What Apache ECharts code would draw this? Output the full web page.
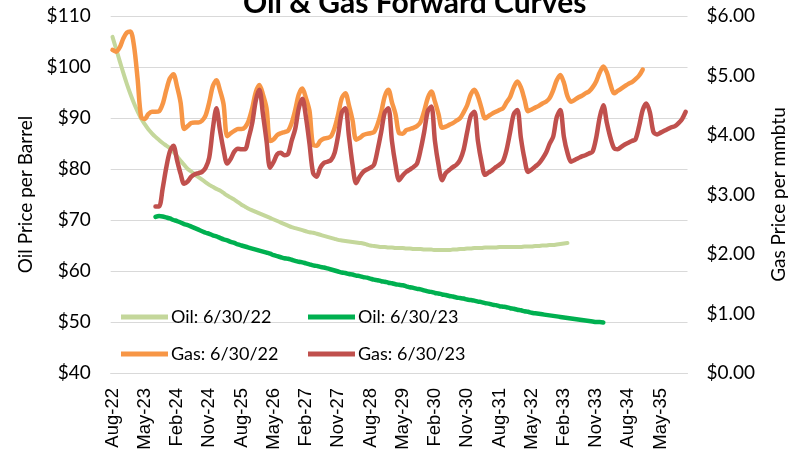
<!DOCTYPE html>
<html>
<head>
<meta charset="utf-8">
<script src="https://cdn.jsdelivr.net/npm/echarts@6/dist/echarts.min.js"></script>
<style>
  html, body { margin: 0; padding: 0; background: #fff; }
  #chart { width: 800px; height: 456px; }
</style>
</head>
<body>
<div id="chart"></div>
<script>
// monthly categories Aug-22 .. Dec-35
const MONTHS = ['Jan','Feb','Mar','Apr','May','Jun','Jul','Aug','Sep','Oct','Nov','Dec']
const categories = []
for (let k = 0; k < 161; k++) {
    const m = (7 + k) % 12
    const y = 22 + Math.floor((7 + k) / 12)
    categories.push(MONTHS[m] + '-' + y)
}

// Oil: 6/30/22, starts Aug-22
const oil22Start = 0
const oil22 = [
    105.9, 103.6, 101.2, 98.9, 96.7, 94.7, 92.9, 91.3, 89.9, 88.8, 87.8, 87.0,
    86.3, 85.7, 85.1, 84.6, 84.1, 83.4, 82.5, 81.6, 80.8, 80.0, 79.5, 78.9,
    78.4, 77.9, 77.4, 76.9, 76.5, 76.1, 75.8, 75.3, 74.8, 74.4, 74.0, 73.5,
    73.0, 72.6, 72.2, 71.9, 71.6, 71.3, 71.0, 70.7, 70.4, 70.1, 69.8, 69.5,
    69.2, 68.9, 68.6, 68.4, 68.2, 68.0, 67.8, 67.6, 67.5, 67.3, 67.1, 66.9,
    66.7, 66.5, 66.3, 66.1, 66.0, 65.9, 65.8, 65.7, 65.6, 65.5, 65.4, 65.2,
    65.0, 64.9, 64.8, 64.7, 64.7, 64.6, 64.6, 64.5, 64.5, 64.5, 64.4, 64.4,
    64.3, 64.3, 64.3, 64.2, 64.2, 64.2, 64.1, 64.1, 64.1, 64.1, 64.1, 64.2,
    64.2, 64.3, 64.3, 64.4, 64.4, 64.5, 64.5, 64.5, 64.6, 64.6, 64.6, 64.6,
    64.7, 64.7, 64.7, 64.7, 64.7, 64.7, 64.7, 64.8, 64.8, 64.8, 64.9, 64.9,
    65.0, 65.0, 65.1, 65.1, 65.2, 65.3, 65.4, 65.5
]

// Oil: 6/30/23, starts Aug-23
const oil23Start = 12
const oil23 = [
    70.6, 70.8, 70.7, 70.5, 70.3, 70.0, 69.8, 69.5, 69.2, 69.0, 68.7, 68.4,
    68.1, 67.8, 67.5, 67.3, 67.0, 66.8, 66.5, 66.2, 66.0, 65.7, 65.5, 65.2,
    65.0, 64.8, 64.6, 64.4, 64.2, 64.0, 63.8, 63.6, 63.4, 63.1, 62.9, 62.7,
    62.5, 62.4, 62.2, 62.0, 61.8, 61.7, 61.5, 61.3, 61.1, 61.0, 60.8, 60.7,
    60.5, 60.3, 60.1, 59.9, 59.7, 59.6, 59.4, 59.3, 59.1, 59.0, 58.8, 58.7,
    58.5, 58.3, 58.2, 58.0, 57.9, 57.7, 57.6, 57.4, 57.3, 57.2, 57.0, 56.8,
    56.7, 56.5, 56.4, 56.2, 56.0, 55.9, 55.7, 55.6, 55.4, 55.3, 55.1, 55.0,
    54.8, 54.7, 54.6, 54.4, 54.3, 54.2, 54.0, 53.9, 53.7, 53.6, 53.4, 53.3,
    53.1, 53.0, 52.9, 52.7, 52.6, 52.4, 52.3, 52.1, 52.0, 51.8, 51.7, 51.6,
    51.5, 51.4, 51.3, 51.2, 51.1, 51.0, 50.9, 50.8, 50.7, 50.6, 50.5, 50.4,
    50.3, 50.2, 50.1, 50.0, 50.0, 49.9
]

// Gas: 6/30/22, starts Aug-22
const gas22Start = 0
const gas22 = [
    5.43, 5.40, 5.47, 5.62, 5.72, 5.74, 5.50, 4.95, 4.30, 4.27, 4.35, 4.39,
    4.39, 4.40, 4.52, 4.75, 4.95, 5.02, 4.82, 4.55, 4.10, 4.15, 4.20, 4.21,
    4.21, 4.24, 4.33, 4.55, 4.82, 4.92, 4.75, 4.52, 3.98, 4.03, 4.07, 4.10,
    4.10, 4.13, 4.24, 4.45, 4.72, 4.84, 4.68, 4.45, 3.90, 3.93, 4.00, 4.03,
    4.05, 4.07, 4.20, 4.42, 4.68, 4.78, 4.62, 4.40, 3.83, 3.82, 3.90, 3.94,
    3.95, 3.98, 4.12, 4.35, 4.62, 4.70, 4.50, 4.25, 3.92, 3.95, 4.00, 4.02,
    4.03, 4.05, 4.18, 4.38, 4.65, 4.76, 4.55, 4.35, 4.03, 4.02, 4.08, 4.10,
    4.12, 4.15, 4.22, 4.40, 4.62, 4.73, 4.56, 4.35, 4.12, 4.14, 4.17, 4.20,
    4.24, 4.28, 4.38, 4.50, 4.68, 4.76, 4.65, 4.45, 4.28, 4.32, 4.36, 4.39,
    4.42, 4.45, 4.55, 4.64, 4.80, 4.90, 4.80, 4.60, 4.40, 4.43, 4.46, 4.49,
    4.53, 4.56, 4.62, 4.75, 4.92, 5.01, 4.88, 4.65, 4.56, 4.59, 4.63, 4.66,
    4.70, 4.73, 4.80, 4.90, 5.05, 5.15, 5.05, 4.85, 4.70, 4.74, 4.78, 4.82,
    4.86, 4.89, 4.94, 5.00, 5.10
]

// Gas: 6/30/23, starts Aug-23
const gas23Start = 12
const gas23 = [
    2.80, 2.80, 3.10, 3.45, 3.72, 3.82, 3.58, 3.35, 3.18, 3.22, 3.30, 3.34,
    3.36, 3.38, 3.45, 3.62, 4.10, 4.45, 4.08, 3.75, 3.52, 3.60, 3.72, 3.77,
    3.76, 3.76, 3.95, 4.20, 4.58, 4.76, 4.35, 3.90, 3.45, 3.55, 3.68, 3.70,
    3.66, 3.68, 3.90, 4.10, 4.45, 4.61, 4.30, 3.85, 3.36, 3.30, 3.45, 3.53,
    3.55, 3.58, 3.70, 4.00, 4.38, 4.45, 3.98, 3.50, 3.19, 3.30, 3.38, 3.42,
    3.45, 3.50, 3.75, 4.05, 4.38, 4.45, 3.90, 3.50, 3.24, 3.32, 3.38, 3.42,
    3.46, 3.52, 3.75, 4.05, 4.40, 4.48, 3.90, 3.50, 3.24, 3.36, 3.41, 3.46,
    3.50, 3.58, 3.75, 4.05, 4.32, 4.39, 3.90, 3.55, 3.33, 3.37, 3.41, 3.46,
    3.50, 3.56, 3.75, 4.05, 4.35, 4.42, 3.95, 3.60, 3.38, 3.42, 3.47, 3.52,
    3.60, 3.70, 3.85, 3.97, 4.30, 4.42, 3.97, 3.70, 3.55, 3.58, 3.61, 3.64,
    3.66, 3.69, 3.72, 3.95, 4.30, 4.50, 4.20, 3.95, 3.78, 3.76, 3.80, 3.84,
    3.87, 3.90, 3.93, 4.15, 4.42, 4.53, 4.38, 4.05, 4.01, 4.04, 4.07, 4.10,
    4.13, 4.15, 4.20, 4.27, 4.39
]

const pad = (start, vals) => new Array(start).fill(null).concat(vals)

const labelFont = 'Lato'
const textColor = '#000'
const gridColor = '#d9d9d9'

const legendCell = (name, left, top) => ({
    data: [name],
    left: left,
    top: top,
    icon: 'rect',
    itemWidth: 47,
    itemHeight: 5,
    itemGap: 0,
    textStyle: { fontFamily: labelFont, fontSize: 18, color: textColor, padding: [0, 0, 0, -2] }
})

const lineSeries = (name, color, yAxisIndex, start, vals, width) => ({
    name: name,
    type: 'line',
    yAxisIndex: yAxisIndex,
    data: pad(start, vals),
    symbol: 'none',
    smooth: 0.3,
    lineStyle: { color: color, width: width, cap: 'round', join: 'round' },
    itemStyle: { color: color },
    emphasis: { disabled: true }
})

const chart = echarts.init(document.getElementById('chart'))
chart.setOption({
    animation: false,
    title: {
        text: 'Oil & Gas Forward Curves',
        left: 238,
        top: -17,
        textStyle: { fontFamily: labelFont, fontSize: 30, fontWeight: 'bold', color: textColor }
    },
    legend: [
        legendCell('Oil: 6/30/22', 116, 303),
        legendCell('Oil: 6/30/23', 303, 303),
        legendCell('Gas: 6/30/22', 116, 340),
        legendCell('Gas: 6/30/23', 303, 340)
    ],
    grid: { left: 110.7, right: 112.5, top: 16, bottom: 83 },
    xAxis: {
        type: 'category',
        data: categories,
        boundaryGap: true,
        axisLine: { lineStyle: { color: gridColor, width: 1 } },
        axisTick: { interval: 8, length: 5, lineStyle: { color: gridColor } },
        axisLabel: {
            interval: 8,
            rotate: 90,
            margin: 15,
            fontFamily: 'Liberation Sans',
            fontSize: 18.5,
            color: textColor
        },
        splitLine: { show: false }
    },
    yAxis: [
        {
            type: 'value',
            min: 40,
            max: 110,
            interval: 10,
            name: 'Oil Price per Barrel',
            nameLocation: 'middle',
            nameRotate: 90,
            nameGap: 68,
            nameTextStyle: { fontFamily: labelFont, fontSize: 19, color: textColor },
            axisLine: { show: false },
            axisTick: { show: false },
            axisLabel: { formatter: '${value}', fontFamily: labelFont, fontSize: 19, color: textColor, margin: 20 },
            splitLine: { lineStyle: { color: gridColor, width: 1 } }
        },
        {
            type: 'value',
            min: 0,
            max: 6,
            interval: 1,
            name: 'Gas Price per mmbtu',
            nameLocation: 'middle',
            nameRotate: 90,
            nameGap: 82,
            nameTextStyle: { fontFamily: labelFont, fontSize: 19, color: textColor },
            axisLine: { show: false },
            axisTick: { show: false },
            axisLabel: {
                formatter: v => '$' + v.toFixed(2),
                fontFamily: labelFont, fontSize: 19, color: textColor, margin: 19
            },
            splitLine: { show: false }
        }
    ],
    series: [
        lineSeries('Oil: 6/30/22', '#c4d79b', 0, oil22Start, oil22, 4),
        lineSeries('Oil: 6/30/23', '#00b050', 0, oil23Start, oil23, 4.5),
        lineSeries('Gas: 6/30/22', '#f79646', 1, gas22Start, gas22, 4.5),
        lineSeries('Gas: 6/30/23', '#c0504d', 1, gas23Start, gas23, 4.5)
    ]
})
window.addEventListener('resize', () => chart.resize())
</script>
</body>
</html>
